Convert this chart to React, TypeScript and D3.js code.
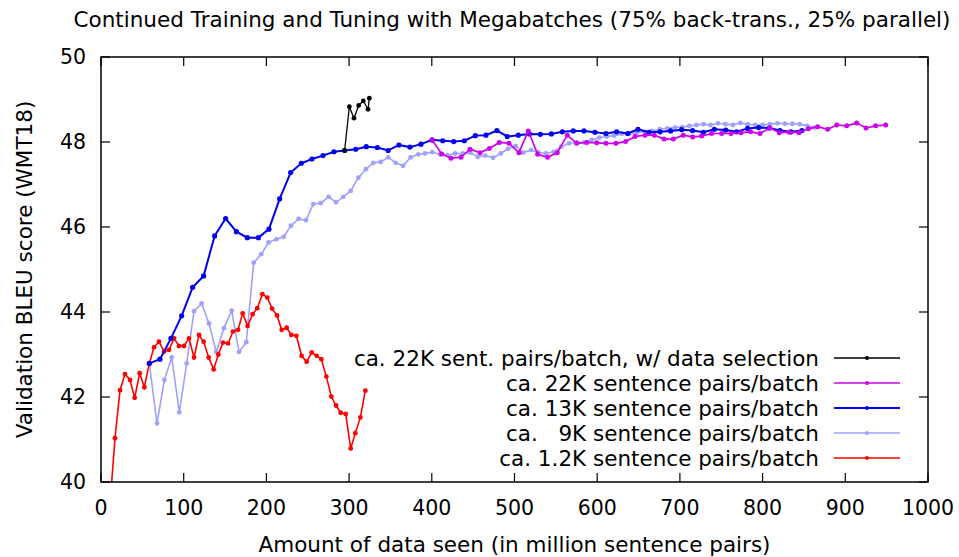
import React from 'react';
import * as d3 from 'd3';

// values (x: million sentence pairs, y: BLEU)
const selX = [294.6, 300.3, 305.9, 311.6, 317.2, 322.9, 324.5];
const selY = [47.8, 48.83, 48.56, 48.86, 48.97, 48.77, 49.03];

const b22X = [
  400.4, 412.0, 423.2, 435.3, 446.2, 458.3, 469.6, 481.6, 493.3, 505.4, 516.7, 528.0, 540.1, 551.7,
  563.8, 575.2, 587.3, 599.4, 610.6, 622.7, 634.4, 645.7, 657.8, 669.0, 680.8, 692.0, 704.1, 715.4,
  726.3, 738.4, 750.5, 761.8, 773.9, 785.6, 796.8, 808.9, 820.2, 832.3, 844.0, 855.3, 866.6, 878.7,
  889.6, 901.7, 913.8, 925.0, 936.7, 948.8,
];
const b22Y = [
  48.05, 47.72, 47.62, 47.64, 47.83, 47.75, 47.85, 47.99, 47.97, 47.75, 48.26, 47.71, 47.64, 47.75,
  48.16, 47.97, 47.99, 47.98, 47.97, 47.97, 48.01, 48.13, 48.16, 48.16, 48.07, 48.07, 48.16, 48.12,
  48.14, 48.2, 48.2, 48.2, 48.22, 48.24, 48.2, 48.33, 48.22, 48.23, 48.22, 48.31, 48.36, 48.3,
  48.4, 48.38, 48.45, 48.33, 48.38, 48.4,
];

const b13X = [
  58.4, 71.3, 84.6, 97.5, 110.8, 124.1, 137.4, 150.7, 163.7, 176.9, 190.3, 203.1, 216.0, 229.3,
  242.2, 255.1, 268.4, 281.7, 294.6, 308.0, 320.8, 334.1, 347.2, 360.3, 373.6, 386.9, 400.4, 413.2,
  426.5, 439.3, 452.6, 465.5, 478.8, 491.3, 504.6, 517.9, 531.2, 544.5, 557.8, 571.1, 584.0, 597.3,
  610.6, 623.5, 636.8, 649.3, 662.6, 675.9, 688.8, 702.1, 715.3, 728.3, 741.6, 755.4, 768.7, 781.9,
  795.2, 808.1, 821.0, 834.3, 847.6,
];
const b13Y = [
  42.79, 42.89, 43.38, 43.91, 44.58, 44.85, 45.79, 46.2, 45.89, 45.75, 45.75, 45.95, 46.66, 47.28,
  47.5, 47.6, 47.68, 47.77, 47.8, 47.83, 47.89, 47.87, 47.8, 47.93, 47.88, 47.95, 48.05, 48.03,
  48.01, 48.03, 48.15, 48.16, 48.27, 48.13, 48.16, 48.19, 48.18, 48.19, 48.24, 48.26, 48.26, 48.23,
  48.2, 48.24, 48.2, 48.3, 48.23, 48.24, 48.26, 48.29, 48.27, 48.23, 48.3, 48.28, 48.24, 48.32,
  48.34, 48.33, 48.27, 48.24, 48.27,
];

const b9X = [
  58.4, 67.7, 76.6, 85.5, 94.7, 103.6, 112.5, 121.7, 130.6, 139.4, 148.7, 158.0, 166.9, 175.7,
  184.6, 193.8, 202.7, 212.0, 220.9, 229.7, 239.0, 247.9, 256.7, 265.6, 275.3, 284.2, 293.0, 301.9,
  311.2, 320.4, 329.3, 338.2, 347.4, 356.3, 365.2, 374.5, 383.7, 391.8, 400.6, 409.9, 419.2, 428.1,
  437.4, 446.6, 455.5, 464.7, 474.0, 483.3, 492.1, 501.4, 510.6, 519.9, 528.7, 538.0, 547.4, 556.5,
  565.9, 575.2, 584.0, 593.3, 602.5, 611.5, 620.3, 629.6, 638.9, 648.1, 657.4, 666.2, 675.5, 684.8,
  694.0, 702.8, 711.5, 720.0, 728.5, 737.0, 746.0, 755.0, 764.0, 773.0, 782.0, 791.0, 800.0, 809.0,
  818.0, 827.0, 836.0, 845.0, 854.0, 863.0,
];
const b9Y = [
  42.79, 41.38, 42.4, 42.93, 41.64, 42.79, 44.02, 44.2, 43.73, 43.06, 43.62, 44.03, 43.06, 43.29,
  45.16, 45.36, 45.64, 45.71, 45.77, 46.03, 46.19, 46.16, 46.54, 46.56, 46.71, 46.58, 46.71, 46.85,
  47.16, 47.36, 47.51, 47.53, 47.64, 47.51, 47.44, 47.64, 47.71, 47.73, 47.76, 47.71, 47.69, 47.73,
  47.73, 47.75, 47.65, 47.68, 47.63, 47.73, 47.84, 47.91, 47.75, 47.81, 47.76, 47.73, 47.77, 47.89,
  47.97, 47.99, 47.99, 48.05, 48.1, 48.13, 48.15, 48.19, 48.2, 48.22, 48.24, 48.26, 48.3, 48.32,
  48.34, 48.35, 48.38, 48.4, 48.42, 48.4, 48.44, 48.42, 48.4, 48.45, 48.42, 48.4, 48.4, 48.42,
  48.44, 48.43, 48.43, 48.42, 48.38, 48.34,
];

const b1X = [
  11.0, 16.9, 23.0, 29.0, 35.1, 40.7, 46.8, 52.4, 58.4, 64.1, 70.1, 76.2, 82.2, 88.3, 94.3, 100.4,
  106.4, 112.5, 118.5, 124.1, 130.2, 136.2, 141.9, 147.5, 153.6, 159.6, 165.7, 171.3, 177.3, 183.4,
  189.0, 195.1, 201.1, 206.8, 212.8, 218.5, 224.5, 230.1, 236.2, 242.6, 248.7, 254.7, 260.8, 266.4,
  272.5, 278.5, 284.2, 289.8, 295.9, 301.9, 307.5, 313.6, 319.6,
];
const b1Y = [
  39.5, 41.03, 42.16, 42.54, 42.4, 41.98, 42.56, 42.23, 42.79, 43.17, 43.3, 43.07, 43.11, 43.38,
  43.2, 43.2, 43.38, 42.93, 43.46, 43.3, 42.93, 42.65, 43.0, 43.28, 43.26, 43.54, 43.58, 43.97,
  43.67, 43.95, 44.09, 44.42, 44.34, 44.08, 43.92, 43.58, 43.63, 43.46, 43.44, 42.97, 42.83, 43.05,
  42.97, 42.89, 42.48, 42.01, 41.8, 41.63, 41.6, 40.79, 41.15, 41.52, 42.15,
];

const xTicks = [0, 100, 200, 300, 400, 500, 600, 700, 800, 900, 1000];
const yTicks = [40, 42, 44, 46, 48, 50];

const titleText = 'Continued Training and Tuning with Megabatches (75% back-trans., 25% parallel)';
const xLabel = 'Amount of data seen (in million sentence pairs)';
const yLabel = 'Validation BLEU score (WMT18)';

interface Series {
  label: string;
  color: string;
  width: number;
  r: number;
  xs: number[];
  ys: number[];
}

// legend order (top to bottom)
const series: Series[] = [
  { label: 'ca. 22K sent. pairs/batch, w/ data selection', color: '#000000', width: 1.3, r: 2.4, xs: selX, ys: selY },
  { label: 'ca. 22K sentence pairs/batch', color: '#cc00ee', width: 1.7, r: 2.5, xs: b22X, ys: b22Y },
  { label: 'ca. 13K sentence pairs/batch', color: '#0000ee', width: 2, r: 2.6, xs: b13X, ys: b13Y },
  { label: 'ca.\u00a0\u00a0\u00a09K sentence pairs/batch', color: '#a0a0ff', width: 1.6, r: 2.4, xs: b9X, ys: b9Y },
  { label: 'ca. 1.2K sentence pairs/batch', color: '#ff0000', width: 1.6, r: 2.4, xs: b1X, ys: b1Y },
];

const drawOrder = [3, 4, 2, 1, 0];

const W = 959;
const H = 557;
const margin = { top: 57, right: 31, bottom: 75, left: 101 };
const tickLen = 9;
const font = "'DejaVu Sans', sans-serif";
const labelSize = 21.5;

export default function App() {
  const x = d3.scaleLinear().domain([0, 1000]).range([margin.left, W - margin.right]);
  const y = d3.scaleLinear().domain([40, 50]).range([H - margin.bottom, margin.top]);
  const [x0, x1] = x.range();
  const [y0, y1] = y.range();

  const line = d3
    .line<[number, number]>()
    .x((d) => x(d[0]))
    .y((d) => y(d[1]));

  const legendY = [358, 383, 408, 433, 458];

  return (
    <svg
      width={W}
      height={H}
      style={{ position: 'absolute', left: 0, top: 0, background: '#fff' }}
      fontFamily={font}
      fontSize={20.5}
    >
      <defs>
        <clipPath id="plot">
          <rect x={x0} y={y1} width={x1 - x0} height={y0 - y1} />
        </clipPath>
      </defs>

      <text x={512} y={27} textAnchor="middle" fontSize={labelSize}>
        {titleText}
      </text>

      {/* ticks, mirrored on top and right like gnuplot */}
      {xTicks.map((t) => (
        <g key={'x' + t}>
          <line x1={x(t)} x2={x(t)} y1={y0} y2={y0 - tickLen} stroke="#000" strokeWidth={1.2} />
          <line x1={x(t)} x2={x(t)} y1={y1} y2={y1 + tickLen} stroke="#000" strokeWidth={1.2} />
          <text x={x(t)} y={515} textAnchor="middle">
            {t}
          </text>
        </g>
      ))}
      {yTicks.map((t) => (
        <g key={'y' + t}>
          <line x1={x0} x2={x0 + tickLen} y1={y(t)} y2={y(t)} stroke="#000" strokeWidth={1.2} />
          <line x1={x1} x2={x1 - tickLen} y1={y(t)} y2={y(t)} stroke="#000" strokeWidth={1.2} />
          <text x={86} y={y(t) + 7} textAnchor="end">
            {t}
          </text>
        </g>
      ))}

      <text x={(x0 + x1) / 2} y={552} textAnchor="middle" fontSize={labelSize}>
        {xLabel}
      </text>
      <text
        transform={`translate(32,${(y0 + y1) / 2}) rotate(-90)`}
        textAnchor="middle"
        fontSize={labelSize}
      >
        {yLabel}
      </text>

      <g clipPath="url(#plot)">
        {drawOrder.map((i) => {
          const s = series[i];
          const pts = s.xs.map((v, k) => [v, s.ys[k]] as [number, number]);
          return (
            <g key={s.label}>
              <path d={line(pts) || ''} fill="none" stroke={s.color} strokeWidth={s.width} />
              {pts.map((p, k) => (
                <circle key={k} cx={x(p[0])} cy={y(p[1])} r={s.r} fill={s.color} />
              ))}
            </g>
          );
        })}
      </g>

      {/* legend */}
      {series.map((s, i) => (
        <g key={'leg' + i}>
          <text
            x={819}
            y={legendY[i] + 7.5}
            textAnchor="end"
            fontSize={labelSize}
            style={{ whiteSpace: 'pre' }}
          >
            {s.label}
          </text>
          <line x1={834} x2={900} y1={legendY[i]} y2={legendY[i]} stroke={s.color} strokeWidth={s.width} />
          <circle cx={867} cy={legendY[i]} r={2} fill={s.color} />
        </g>
      ))}

      <rect x={x0} y={y1} width={x1 - x0} height={y0 - y1} fill="none" stroke="#000" strokeWidth={1.5} />
    </svg>
  );
}
